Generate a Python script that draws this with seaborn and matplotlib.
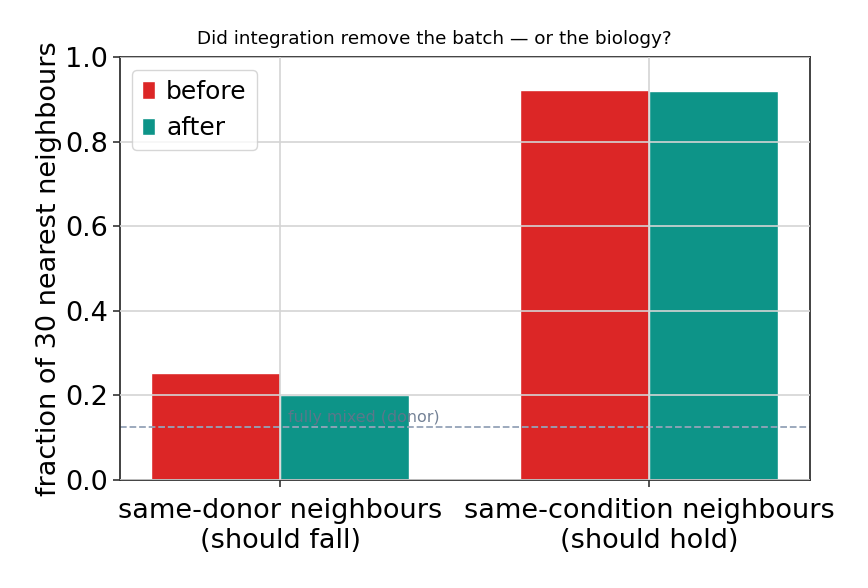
import numpy as np
import pandas as pd
import seaborn as sns
import matplotlib.pyplot as plt

# data
categories = ['same-donor neighbours\n(should fall)',
              'same-condition neighbours\n(should hold)']
before = [0.253, 0.922]
after = [0.201, 0.920]
fully_mixed_donor = 0.125

df = pd.DataFrame({
    'category': categories * 2,
    'stage': ['before'] * 2 + ['after'] * 2,
    'fraction': before + after,
})

sns.set_style('whitegrid')
plt.rcParams['font.family'] = ['DejaVu Sans']
plt.rcParams['text.color'] = 'black'
plt.rcParams['axes.labelcolor'] = 'black'
plt.rcParams['xtick.color'] = 'black'
plt.rcParams['ytick.color'] = 'black'

fig, ax = plt.subplots(figsize=(8.68, 5.88), dpi=100)
sns.barplot(data=df, x='category', y='fraction', hue='stage',
            palette={'before': '#dc2626', 'after': '#0d9488'},
            width=0.7, saturation=1, ax=ax, gap=0)

ax.axhline(fully_mixed_donor, color='#94a3b8', ls='--', lw=1.3)
ax.text(0.02, fully_mixed_donor + 0.004, 'fully mixed (donor)',
        color='#64748b', fontsize=11.4, va='bottom', ha='left', alpha=0.9)

ax.set_ylim(0, 1.0)
ax.set_xlim(-0.435, 1.435)
ax.set_axisbelow(False)
ax.grid(True, color='#d4d4d4', lw=1.2)
ax.set_xlabel('')
ax.set_ylabel('fraction of 30 nearest neighbours', fontsize=19.5, labelpad=2)
ax.tick_params(axis='both', labelsize=19.5, length=5, width=1.2,
               left=True, bottom=True)
ax.tick_params(axis='x', pad=8)
ax.tick_params(axis='both', color='#333333')
fig.suptitle('Did integration remove the batch — or the biology?',
             fontsize=13.2, y=1 - 39 / 588, va='center')
for s in ax.spines.values():
    s.set_color('#333333')
    s.set_linewidth(1.3)
    s.set_visible(True)

ax.legend(loc='upper left', fontsize=18, handlelength=0.5, handleheight=0.7,
          handletextpad=0.45, title=None, frameon=True)

plt.subplots_adjust(left=0.138, right=0.933, top=0.903, bottom=0.184)
plt.savefig('out.png', dpi=100)
